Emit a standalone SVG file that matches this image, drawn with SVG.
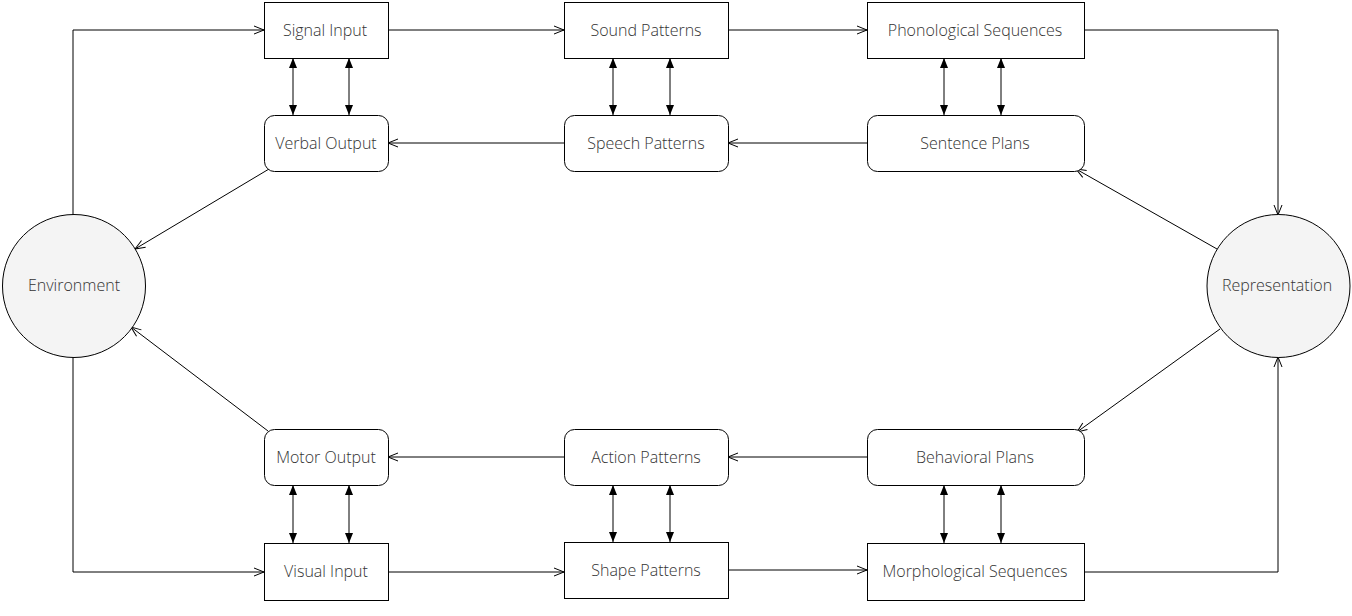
<svg xmlns="http://www.w3.org/2000/svg" width="1352" height="616" viewBox="0 0 1352 616">
<defs>
<marker id="open" viewBox="0 0 12 10" refX="11" refY="5" markerWidth="12" markerHeight="10" markerUnits="userSpaceOnUse" orient="auto">
<path d="M1,1 L11,5 L1,9" fill="none" stroke="#000" stroke-width="1"/>
</marker>
<marker id="fill" viewBox="0 0 10 8" refX="10" refY="4" markerWidth="10" markerHeight="8" markerUnits="userSpaceOnUse" orient="auto-start-reverse">
<path d="M0,0 L10,4 L0,8 Z" fill="#000"/>
</marker>
<style>
.box{fill:#fff;stroke:#000;stroke-width:1}
.circ{fill:#f4f4f4;stroke:#000;stroke-width:1}
.t{font-family:"Open Sans","Noto Sans",sans-serif;font-size:16px;font-weight:300;fill:#333;text-anchor:middle;dominant-baseline:central}
.c{fill:none;stroke:#000;stroke-width:1}
.c1{marker-end:url(#open)}
.c2{marker-start:url(#fill);marker-end:url(#fill)}
</style>
</defs>
<rect width="1352" height="616" fill="#fff"/>
<g id="connectors">
<path class="c c1" d="M73,215 V30 H264"/>
<path class="c c1" d="M388,30 H564"/>
<path class="c c1" d="M728,30 H867"/>
<path class="c c1" d="M1084,30 H1278 V215"/>
<path class="c c1" d="M1217,249 L1076,169"/>
<path class="c c1" d="M867,143 H728"/>
<path class="c c1" d="M564,143 H388"/>
<path class="c c1" d="M269,169 L135,249"/>
<path class="c c1" d="M1220,329 L1077,432"/>
<path class="c c1" d="M867,457 H728"/>
<path class="c c1" d="M564,457 H388"/>
<path class="c c1" d="M268,431 L131,327"/>
<path class="c c1" d="M73,357 V572 H264"/>
<path class="c c1" d="M388,572 H564"/>
<path class="c c1" d="M728,570 H867"/>
<path class="c c1" d="M1084,572 H1278 V357"/>
<path class="c c2" d="M293,58 V115"/>
<path class="c c2" d="M349,58 V115"/>
<path class="c c2" d="M613,58 V115"/>
<path class="c c2" d="M670,58 V115"/>
<path class="c c2" d="M944,58 V115"/>
<path class="c c2" d="M1001,58 V115"/>
<path class="c c2" d="M293,485 V543"/>
<path class="c c2" d="M349,485 V543"/>
<path class="c c2" d="M613,485 V542"/>
<path class="c c2" d="M670,485 V542"/>
<path class="c c2" d="M944,485 V543"/>
<path class="c c2" d="M1001,485 V543"/>
</g>
<g id="environment"><circle class="circ" cx="74" cy="286" r="71.5"/><text class="t" x="74" y="285">Environment</text></g>
<g id="representation"><circle class="circ" cx="1278.5" cy="286" r="71.5"/><text class="t" x="1277" y="285">Representation</text></g>
<g id="signal-input"><rect class="box" x="264.5" y="2.5" width="124" height="56"/><text class="t" x="325" y="29.5">Signal Input</text></g>
<g id="sound-patterns"><rect class="box" x="564.5" y="2.5" width="164" height="56"/><text class="t" x="646" y="29.5">Sound Patterns</text></g>
<g id="phonological-sequences"><rect class="box" x="867.5" y="2.5" width="217" height="56"/><text class="t" x="975" y="29.5">Phonological Sequences</text></g>
<g id="verbal-output"><rect class="box" x="264.5" y="115.5" width="124" height="56" rx="10"/><text class="t" x="326" y="142.5">Verbal Output</text></g>
<g id="speech-patterns"><rect class="box" x="564.5" y="115.5" width="164" height="56" rx="10"/><text class="t" x="646" y="142.5">Speech Patterns</text></g>
<g id="sentence-plans"><rect class="box" x="867.5" y="115.5" width="217" height="56" rx="10"/><text class="t" x="975" y="142.5">Sentence Plans</text></g>
<g id="motor-output"><rect class="box" x="264.5" y="429.5" width="124" height="56" rx="10"/><text class="t" x="326" y="456.5">Motor Output</text></g>
<g id="action-patterns"><rect class="box" x="564.5" y="429.5" width="164" height="56" rx="10"/><text class="t" x="646" y="456.5">Action Patterns</text></g>
<g id="behavioral-plans"><rect class="box" x="867.5" y="429.5" width="217" height="56" rx="10"/><text class="t" x="975" y="456.5">Behavioral Plans</text></g>
<g id="visual-input"><rect class="box" x="264.5" y="543.5" width="124" height="57"/><text class="t" x="326" y="571">Visual Input</text></g>
<g id="shape-patterns"><rect class="box" x="564.5" y="542.5" width="164" height="56"/><text class="t" x="646" y="569.5">Shape Patterns</text></g>
<g id="morphological-sequences"><rect class="box" x="867.5" y="543.5" width="217" height="57"/><text class="t" x="975" y="571">Morphological Sequences</text></g>
</svg>
